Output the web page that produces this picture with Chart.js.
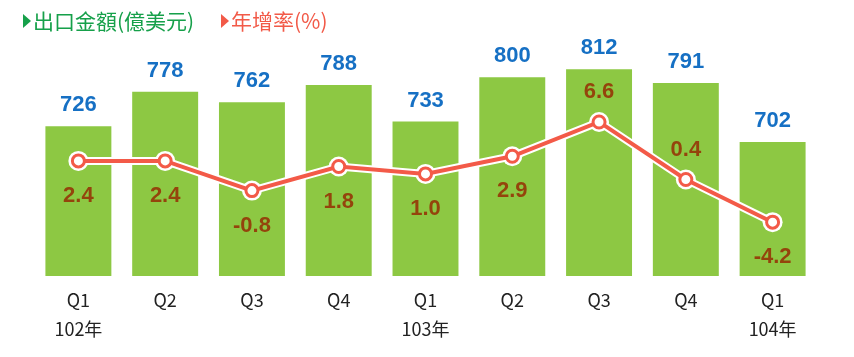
<!DOCTYPE html>
<html><head><meta charset="utf-8">
<script src="https://cdn.jsdelivr.net/npm/chart.js@4"></script>
<style>
html,body{margin:0;padding:0;background:#fff;}
#wrap{position:relative;width:854px;height:357px;}
canvas{position:absolute;left:0;top:0;}
.lg{position:absolute;top:6px;font-family:"Noto Sans CJK TC","Noto Sans",sans-serif;font-size:21px;line-height:28px;white-space:nowrap;}
.tri{display:inline-block;width:0;height:0;border-top:7px solid transparent;border-bottom:7px solid transparent;border-left:8px solid;vertical-align:middle;margin-right:2px;position:relative;top:-2px;}
</style></head>
<body><div id="wrap">
<canvas id="c" width="854" height="357"></canvas>
<div class="lg" style="left:23px;color:#16a04a"><span class="tri" style="border-left-color:#16a04a"></span>出口金額(億美元)</div>
<div class="lg" style="left:221px;color:#f25a48"><span class="tri" style="border-left-color:#f25a48"></span>年增率(%)</div>
</div>
<script>
const quarters = ['Q1','Q2','Q3','Q4','Q1','Q2','Q3','Q4','Q1'];
const years = ['102年','','','','103年','','','','104年'];
const exportValues = [726,778,762,788,733,800,812,791,702];
const growthRates = [2.4,2.4,-0.8,1.8,1.0,2.9,6.6,0.4,-4.2];
const growthLabelSide = ['below','below','below','below','below','below','above','above','below'];

const labels = quarters.map((q,i)=> years[i] ? [q, years[i]] : q);

const labelPlugin = {
  id:'valueLabels',
  afterDatasetsDraw(chart){
    const ctx = chart.ctx;
    ctx.save();
    ctx.textAlign='center';
    ctx.textBaseline='middle';
    ctx.font='bold 22px "Liberation Sans", Arial, sans-serif';
    const bars = chart.getDatasetMeta(0).data;
    bars.forEach((b,i)=>{
      ctx.fillStyle='#1670c4';
      ctx.fillText(String(exportValues[i]), b.x, b.y-21);
    });
    const pts = chart.getDatasetMeta(2).data;
    pts.forEach((p,i)=>{
      ctx.fillStyle='#94440c';
      const dy = growthLabelSide[i]==='above' ? -30 : 35;
      ctx.fillText(growthRates[i].toFixed(1), p.x, p.y+dy);
    });
    ctx.restore();
  }
};

new Chart(document.getElementById('c'),{
  data:{
    labels,
    datasets:[
      {type:'bar',data:exportValues,backgroundColor:'#8dc843',yAxisID:'y',order:3,
       barPercentage:0.76,categoryPercentage:1},
      {type:'line',data:growthRates,yAxisID:'y2',order:2,borderColor:'#ffffff',borderWidth:8,
       pointRadius:10,pointBackgroundColor:'#ffffff',pointBorderWidth:0,tension:0},
      {type:'line',data:growthRates,yAxisID:'y2',order:1,borderColor:'#f35a48',borderWidth:4,
       pointRadius:6,pointBorderWidth:3,pointBorderColor:'#f35a48',pointBackgroundColor:'#ffffff',tension:0}
    ]
  },
  options:{
    responsive:false,animation:false,
    layout:{padding:{left:35,right:38,top:44,bottom:0}},
    plugins:{legend:{display:false},tooltip:{enabled:false}},
    scales:{
      x:{grid:{display:false,drawTicks:false},border:{display:false},
         ticks:{color:'#222',font:{size:18,family:'"Liberation Sans Narrow", "Noto Sans CJK TC", sans-serif',lineHeight:1.65},padding:9,maxRotation:0,autoSkip:false},
         afterFit(s){s.height=357-276;}},
      y:{display:false,min:500,max:850},
      y2:{display:false,min:-10,max:15}
    }
  },
  plugins:[labelPlugin]
});
</script>
</body></html>
